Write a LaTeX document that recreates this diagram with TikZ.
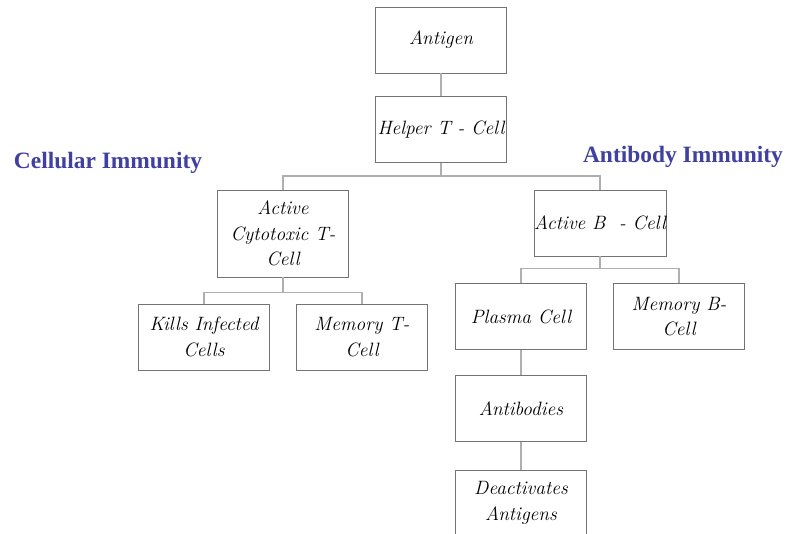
\documentclass[tikz,border=0pt]{standalone}
\usepackage{fontspec}
\usepackage{xcolor}
\usepackage{tikz}
\usetikzlibrary{positioning,calc}
\newfontfamily\headfont{Liberation Serif}
\definecolor{headblue}{RGB}{64,64,160}
\definecolor{linkgray}{RGB}{175,175,175}
\tikzset{
  box/.style={rectangle, draw=black!55, line width=0.6pt, fill=white, align=center,
              minimum width=3.93cm, minimum height=1.98cm, inner xsep=0pt, inner ysep=2pt,
              font=\fontsize{16.5}{22}\selectfont\itshape},
  box/.default={},
  tallbox/.style={box, minimum height=2.61cm},
  link/.style={draw=linkgray, line width=1.4pt},
  head/.style={font=\headfont\fontsize{20}{24}\selectfont\bfseries, text=headblue, inner sep=0pt},
}

\begin{document}
\begin{tikzpicture}[x=0.03cm, y=-0.03cm]
\clip (0,0) rectangle (788,533);
\fill[white] (0,0) rectangle (788,533);
% boxes
\node[box] (ant) at (441,40) {Antigen};
\node[box] (hlp) at (441,129.5) {Helper T - Cell};
\node[tallbox] (cyt) at (283,233.5) {Active\\Cytotoxic T-\\Cell};
\node[box] (actb) at (600,223) {Active B~~- Cell};
\node[box] (kill) at (204,337) {Kills Infected\\Cells};
\node[box] (memt) at (362,337) {Memory T-\\Cell};
\node[box] (plas) at (521,316.5) {Plasma Cell};
\node[box] (memb) at (679,316.5) {Memory B-\\Cell};
\node[box] (abod) at (521,408.5) {Antibodies};
\node[box] (deact) at (521,503) {Deactivates\\Antigens};
% headings
\node[head] (cell) at (108,163) {Cellular Immunity};
\node[head] (abim) at (683,157) {Antibody Immunity};
% connectors
\draw[link] (ant.south) -- (hlp.north);
\draw[link] (hlp.south) -- ++(0,13) coordinate (hbar);
\draw[link] (hbar) -| (cyt.north);
\draw[link] (hbar) -| (actb.north);
\draw[link] (cyt.south) -- ++(0,15) coordinate (cbar);
\draw[link] (cbar) -| (kill.north);
\draw[link] (cbar) -| (memt.north);
\draw[link] (actb.south) -- ++(0,12) coordinate (bbar);
\draw[link] (bbar) -| (plas.north);
\draw[link] (bbar) -| (memb.north);
\draw[link] (plas.south) -- (abod.north);
\draw[link] (abod.south) -- (deact.north);
\end{tikzpicture}
\end{document}
